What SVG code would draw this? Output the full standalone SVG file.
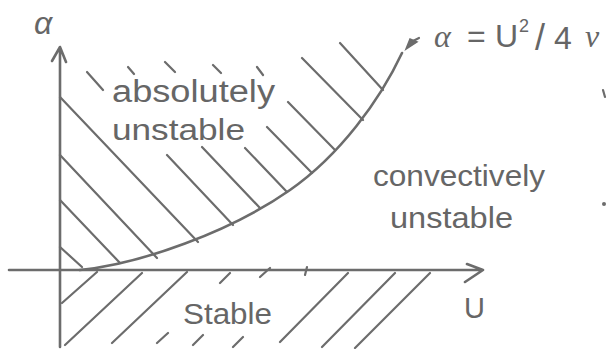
<svg xmlns="http://www.w3.org/2000/svg" width="607" height="349" viewBox="0 0 607 349">
<style>
.ax{stroke:#6c6c6c;stroke-width:2.6;fill:none;stroke-linecap:round;stroke-linejoin:round}
.h{stroke:#6c6c6c;stroke-width:2.2;fill:none;stroke-linecap:round}
.t{fill:#666;font-family:"Liberation Sans","DejaVu Sans",sans-serif}
</style>
<rect width="607" height="349" fill="#fff"/>
<g id="axes">
<path class="ax" d="M60,347 L60,48 M52,61 L60,47 L66,62"/>
<path class="ax" d="M9,270 L483,270 M467,264 L483,270 L465,282"/>
<path class="h" d="M307,267 L305,275"/>
</g>
<g id="curve">
<path class="ax" d="M80,270 C140,264 230,232 290,190 C340,155 380,100 402,53"/>
<path d="M406,49 L410,39 L417,42 Z" fill="#6c6c6c" stroke="#6c6c6c" stroke-width="1.5"/>
<path class="h" d="M413,41 L419,38"/>
</g>
<g id="hatch-absolute">
<path class="h" d="M60,97 L198,242 M60,155 L157,258 M60,200 L120,263 M60,247 L82,267"/>
<path class="h" d="M167,155 L233,225 M202,147 L260,208 M245,148 L287,192 M267,127 L312,173 M288,102 L335,150 M302,58 L363,120 M340,43 L383,90"/>
<path class="h" d="M87,72 L103,90 M128,67 L134,74 M165,62 L175,72 M213,65 L221,73 M257,67 L263,75"/>
</g>
<g id="hatch-stable">
<path class="h" d="M62,303 L97,272 M65,345 L142,273 M112,343 L187,272 M280,342 L348,273 M322,347 L395,273 M355,348 L430,273"/>
<path class="h" d="M157,343 L168,333 M193,345 L203,335 M233,347 L243,337 M220,283 L230,273 M260,277 L270,268"/>
</g>
<g id="marks">
<path class="h" d="M603,90 L605,97"/>
<circle cx="604" cy="204" r="2" fill="#6c6c6c"/>
</g>
<g id="labels">
<text class="t" x="34" y="34" font-size="32" font-style="italic" font-family="Liberation Serif">α</text>
<text class="t" x="112" y="102" font-size="31" textLength="163" lengthAdjust="spacingAndGlyphs">absolutely</text>
<text class="t" x="112" y="140" font-size="30" textLength="133" lengthAdjust="spacingAndGlyphs">unstable</text>
<text class="t" x="373" y="186" font-size="30" textLength="172" lengthAdjust="spacingAndGlyphs">convectively</text>
<text class="t" x="390" y="228" font-size="30" textLength="123" lengthAdjust="spacingAndGlyphs">unstable</text>
<text class="t" x="183" y="324" font-size="30" textLength="89" lengthAdjust="spacingAndGlyphs">Stable</text>
<text class="t" x="464" y="318" font-size="29">U</text>
<text class="t" font-size="32" y="47"><tspan x="434" font-style="italic" font-family="Liberation Serif">α</tspan><tspan x="467">=</tspan><tspan x="495">U</tspan><tspan x="519" y="32" font-size="18">2</tspan><tspan x="535" y="50" font-size="36">/</tspan><tspan x="554" y="49">4</tspan><tspan x="585" y="47" font-style="italic" font-family="Liberation Serif">ν</tspan></text>
</g>
</svg>
